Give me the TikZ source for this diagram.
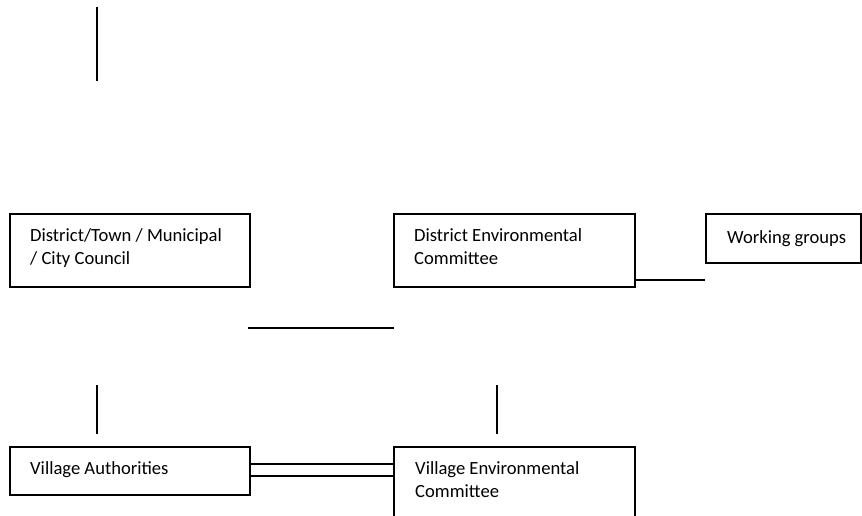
\documentclass[tikz,border=0pt]{standalone}
\usepackage{fontspec}
\setmainfont{Carlito}
\begin{document}
\begin{tikzpicture}[x=1pt,y=-1pt,
  boxnode/.style={draw, line width=1.5pt, rectangle, inner sep=0pt, anchor=north west},
  txt/.style={anchor=base west, inner sep=0pt, font=\fontsize{18.6}{23}\selectfont, align=left},
  conn/.style={line width=1.5pt}]
\useasboundingbox (0,0) rectangle (862,516);
% boxes
\node[boxnode, minimum width=240pt, minimum height=73pt] (dtc) at (9,213) {};
\node[boxnode, minimum width=241pt, minimum height=73pt] (dec) at (393,213) {};
\node[boxnode, minimum width=155pt, minimum height=49pt] (wg) at (705,213) {};
\node[boxnode, minimum width=240pt, minimum height=48pt] (va) at (9,446) {};
\node[boxnode, minimum width=241pt, minimum height=90pt] (vec) at (393,446) {};
% texts
\node[txt] (t1) at (30,241) {District/Town / Municipal};
\node[txt] (t1b) at (30,264) {/ City Council};
\node[txt] (t2) at (414,241) {District Environmental};
\node[txt] (t2b) at (414,264) {Committee};
\node[txt] (t3) at (727,243) {Working groups};
\node[txt] (t4) at (30,474) {Village Authorities};
\node[txt] (t5) at (415,474) {Village Environmental};
\node[txt] (t5b) at (415,497) {Committee};
% free line ends
\coordinate (a1) at (97,7);
\coordinate (a2) at (97,81);
\coordinate (h1) at (248,328);
\coordinate (h2) at (394,328);
\coordinate (v1) at (97,385);
\coordinate (v2) at (97,434);
\coordinate (w1) at (497,385);
\coordinate (w2) at (497,434);
\coordinate (g1) at (705,280);
% connectors
\draw[conn] (a1) -- (a2);
\draw[conn] (h1) -- (h2);
\draw[conn] (v1) -- (v2);
\draw[conn] (w1) -- (w2);
\draw[conn] (dec.east |- g1) -- (g1);
\draw[conn] (va.east |- 0,464) -- (vec.west |- 0,464);
\draw[conn] (va.east |- 0,476) -- (vec.west |- 0,476);
\end{tikzpicture}
\end{document}
